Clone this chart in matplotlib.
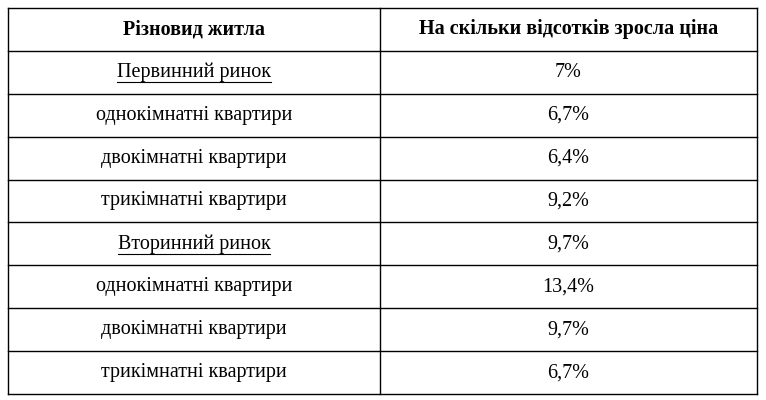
import matplotlib
matplotlib.use("Agg")
import matplotlib.pyplot as plt

headers = ["Різновид житла", "На скільки відсотків зросла ціна"]
categories = ["Первинний ринок", "однокімнатні квартири", "двокімнатні квартири",
              "трикімнатні квартири", "Вторинний ринок", "однокімнатні квартири",
              "двокімнатні квартири", "трикімнатні квартири"]
values = ["7%", "6,7%", "6,4%", "9,2%", "9,7%", "13,4%", "9,7%", "6,7%"]
underlined = [True, False, False, False, True, False, False, False]

W, H = 766, 400
fig = plt.figure(figsize=(W/100, H/100), dpi=100)
ax = fig.add_axes([0, 0, 1, 1])
ax.set_xlim(0, W); ax.set_ylim(H, 0); ax.axis("off")

x0, x1, xm = 8, 757, 380
y0, y1 = 8, 394
n = len(categories) + 1
rh = (y1 - y0) / n
lw = 1.0
for i in range(n + 1):
    ax.plot([x0, x1], [y0 + i*rh]*2, color="black", lw=lw)
for x in (x0, xm, x1):
    ax.plot([x, x], [y0, y1], color="black", lw=lw)

fam = "Liberation Serif"
fs = 14.5
cx = [(x0 + xm)/2, (xm + x1)/2]
for j, h in enumerate(headers):
    ax.text(cx[j], y0 + rh/2, h, ha="center", va="center", fontsize=fs,
            fontweight="bold", family=fam)
for i, (c, v, u) in enumerate(zip(categories, values, underlined)):
    yc = y0 + (i + 1.5)*rh
    t = ax.text(cx[0], yc, c, ha="center", va="center", fontsize=fs, family=fam)
    if u:
        fig.canvas.draw()
        bb = t.get_window_extent(renderer=fig.canvas.get_renderer())
        ax.plot([bb.x0, bb.x1], [yc + 10, yc + 10], color="black", lw=0.8)
    ax.text(cx[1], yc, v, ha="center", va="center", fontsize=fs, family=fam)

fig.savefig("out.png", dpi=100, facecolor="white")
